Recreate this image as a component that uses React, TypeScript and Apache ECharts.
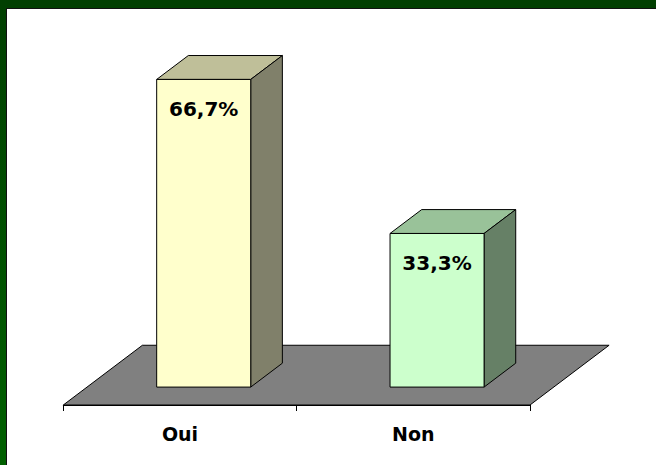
import React, { useEffect, useRef } from "react";
import * as echarts from "echarts";

const categories = ["Oui", "Non"];
const percentValues = [66.7, 33.3];

const frontColors = ["#FFFFCC", "#CCFFCC"];
const topColors = ["#BFBF99", "#99C299"];
const sideColors = ["#80806A", "#668066"];

const FONT = '"DejaVu Sans", Verdana, sans-serif';
// 3D geometry (as fractions of a category band)
const DEPTH_X = 0.339;
const DEPTH_Y = 0.256;
const BAR_W = 0.403;
const F0 = 0.3;
const F1 = 0.7;

const fmt = (v: number) => v.toFixed(1).replace(".", ",") + "%";

export default function App() {
  const ref = useRef<HTMLDivElement>(null);
  useEffect(() => {
    if (!ref.current) return;
    const chart = echarts.init(ref.current, undefined, { renderer: "svg" });
    const option: any = {
      animation: false,
      backgroundColor: "#ffffff",
      grid: { left: 63.3, right: 126, top: 36, bottom: 60 },
      xAxis: {
        type: "category",
        data: categories,
        axisLine: { show: true, lineStyle: { color: "#000", width: 1 } },
        axisTick: { show: true, length: 6, lineStyle: { color: "#000" } },
        axisLabel: {
          color: "#000",
          fontFamily: FONT,
          fontWeight: "bold",
          fontSize: 19,
          margin: 19,
        },
        z: 5,
      },
      yAxis: { type: "value", min: 0, max: 80, show: false },
      graphic: [
        { type: "rect", shape: { x: 0, y: 0, width: 656, height: 8 }, style: { fill: "#013f01" }, z: 100 },
        {
          type: "rect",
          shape: { x: 0, y: 0, width: 6, height: 465 },
          style: {
            fill: new echarts.graphic.LinearGradient(0, 0, 0, 1, [
              { offset: 0, color: "#013f01" },
              { offset: 1, color: "#006000" },
            ]),
          },
          z: 100,
        },
        { type: "rect", shape: { x: 6, y: 8, width: 650, height: 1 }, style: { fill: "#111" }, z: 100 },
        { type: "rect", shape: { x: 6, y: 8, width: 1, height: 457 }, style: { fill: "#111" }, z: 100 },
      ],
      series: [
        {
          type: "custom",
          z: 1,
          silent: true,
          data: [[0, 0]],
          renderItem: (params: any, api: any) => {
            const cs = params.coordSys;
            const band = cs.width / categories.length;
            const dx = band * DEPTH_X;
            const dy = band * DEPTH_Y;
            const yb = cs.y + cs.height;
            return {
              type: "polygon",
              shape: {
                points: [
                  [cs.x, yb],
                  [cs.x + cs.width, yb],
                  [cs.x + cs.width + dx, yb - dy],
                  [cs.x + dx, yb - dy],
                ],
              },
              style: { fill: "#808080", stroke: "#000", lineWidth: 1 },
            };
          },
        },
        {
          type: "custom",
          z: 3,
          encode: { x: 0, y: 1 },
          data: percentValues.map((v, i) => [i, v]),
          renderItem: (params: any, api: any) => {
            const idx = api.value(0);
            const v = api.value(1);
            const base = api.coord([idx, 0]);
            const band = api.size([1, 0])[0];
            const h = api.size([0, v])[1];
            const DX = band * DEPTH_X;
            const DY = band * DEPTH_Y;
            const bw = band * BAR_W;
            const x0 = base[0] - bw / 2 + DX * F0;
            const y0 = base[1] - DY * F0;
            const ddx = DX * (F1 - F0);
            const ddy = DY * (F1 - F0);
            const yt = y0 - h;
            const i = params.dataIndex;
            return {
              type: "group",
              children: [
                {
                  type: "polygon",
                  shape: {
                    points: [
                      [x0, yt],
                      [x0 + bw, yt],
                      [x0 + bw + ddx, yt - ddy],
                      [x0 + ddx, yt - ddy],
                    ],
                  },
                  style: { fill: topColors[i], stroke: "#000", lineWidth: 1 },
                },
                {
                  type: "polygon",
                  shape: {
                    points: [
                      [x0 + bw, yt],
                      [x0 + bw, y0],
                      [x0 + bw + ddx, y0 - ddy],
                      [x0 + bw + ddx, yt - ddy],
                    ],
                  },
                  style: { fill: sideColors[i], stroke: "#000", lineWidth: 1 },
                },
                {
                  type: "rect",
                  shape: { x: x0, y: yt, width: bw, height: h },
                  style: { fill: frontColors[i], stroke: "#000", lineWidth: 1 },
                  textContent: {
                    style: {
                      text: fmt(v),
                      fill: "#000",
                      fontFamily: FONT,
                      fontWeight: "bold",
                      fontSize: 20,
                    },
                  },
                  textConfig: { position: "insideTop", distance: 20 },
                },
              ],
            };
          },
        },
      ],
    };
    chart.setOption(option);
    return () => chart.dispose();
  }, []);
  return (
    <div
      ref={ref}
      style={{ position: "fixed", left: 0, top: 0, width: 656, height: 465 }}
    />
  );
}
